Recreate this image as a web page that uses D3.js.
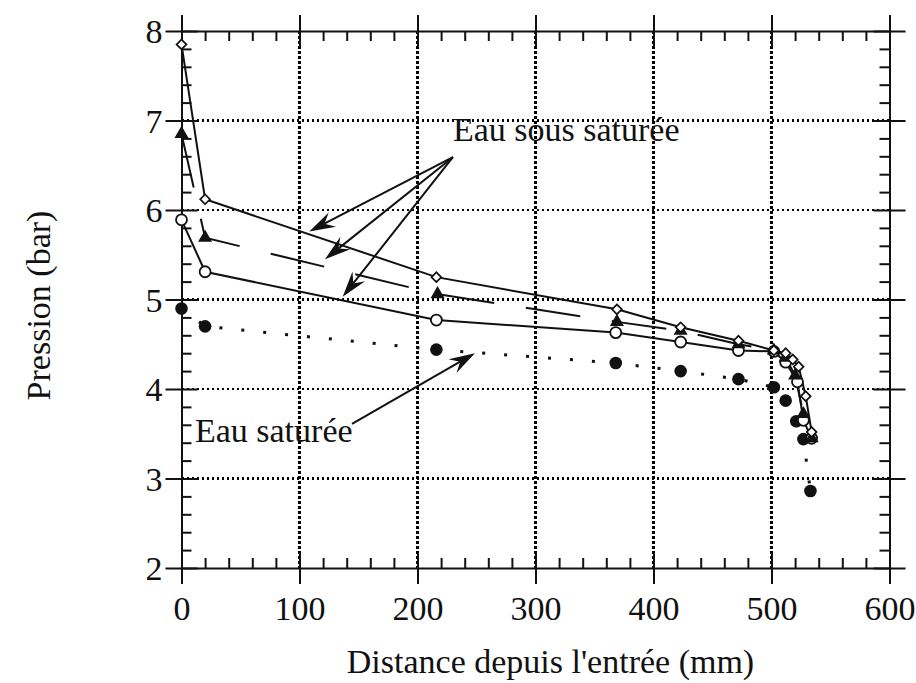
<!DOCTYPE html>
<html><head><meta charset="utf-8">
<script src="https://cdn.jsdelivr.net/npm/d3@7"></script>
<style>
body{margin:0;background:#fff}
text{font-family:"Liberation Serif","Times New Roman",serif;fill:#111}
</style>
</head><body>
<svg id="chart" width="916" height="683"></svg>
<script>
// ---- data ----
const diamondX = [0, 20, 216, 369, 423, 472, 502, 512, 518, 523, 529, 534];
const diamondY = [7.85, 6.12, 5.25, 4.89, 4.69, 4.54, 4.43, 4.40, 4.33, 4.25, 3.92, 3.52];
const triangleX = [0, 20, 217, 369, 423, 472, 502, 512, 520, 527, 534];
const triangleY = [6.85, 5.69, 5.06, 4.75, 4.65, 4.50, 4.43, 4.35, 4.15, 3.72, 3.45];
const openX = [0, 20, 216, 368, 423, 472, 502, 512, 522, 527, 534];
const openY = [5.89, 5.31, 4.77, 4.63, 4.525, 4.43, 4.42, 4.30, 4.08, 3.65, 3.45];
const filledX = [0, 20, 216, 368, 423, 472, 502, 512, 521, 527, 533];
const filledY = [4.90, 4.70, 4.44, 4.29, 4.20, 4.11, 4.02, 3.87, 3.64, 3.44, 2.86];

const xTicks = [0, 100, 200, 300, 400, 500, 600];
const yTicks = [2, 3, 4, 5, 6, 7, 8];
const xMinor = [20,40,60,80,120,140,160,180,220,240,260,280,320,340,360,380,420,440,460,480,520,540,560,580];
const yMinor = [2.2,2.4,2.6,2.8,3.2,3.4,3.6,3.8,4.2,4.4,4.6,4.8,5.2,5.4,5.6,5.8,6.2,6.4,6.6,6.8,7.2,7.4,7.6,7.8];

const xTitle = "Distance depuis l'entrée (mm)";
const yTitle = "Pression (bar)";
const labelSous = "Eau sous saturée";
const labelSat = "Eau saturée";
const labelSousPos = [230, 6.77];
const sousOrigin = [230, 6.59];
const sousTips = [[108.3, 5.76], [121.6, 5.45], [136.6, 5.03]];
const labelSatPos = [11.4, 3.41];
const satFrom = [144.5, 3.61];
const satTip = [248.7, 4.40];

// ---- layout ----
const svg = d3.select("#chart");
const L = 181.5, R = 889.5, T = 31, B = 568;
const x = d3.scaleLinear().domain([0, 600]).range([L, R]);
const y = d3.scaleLinear().domain([2, 8]).range([B, T]);
const FS = 34;

// grid
const grid = svg.append("g").attr("stroke", "#000").attr("stroke-width", 2.5)
  .attr("stroke-dasharray", "2.5,2.5").attr("shape-rendering", "crispEdges");
grid.selectAll("line.gx").data(xTicks.slice(1, -1)).join("line")
  .attr("x1", d => x(d)).attr("x2", d => x(d)).attr("y1", T).attr("y2", B);
grid.selectAll("line.gy").data(yTicks.slice(1, -1)).join("line")
  .attr("y1", d => y(d)).attr("y2", d => y(d)).attr("x1", L).attr("x2", R);

function styleAxis(g) {
  g.select(".domain").attr("stroke", "#111").attr("stroke-width", 2);
  g.selectAll(".tick line").attr("stroke", "#111").attr("stroke-width", 2);
  g.selectAll(".tick text").attr("font-size", FS).attr("font-family", "Liberation Serif").attr("fill", "#111");
}

// bottom axis
const gB = svg.append("g").attr("transform", `translate(0,${B})`)
  .call(d3.axisBottom(x).tickValues(xTicks).tickFormat(d3.format("d")).tickSize(16).tickSizeOuter(0).tickPadding(12));
styleAxis(gB); gB.selectAll(".tick line").attr("y1", -16);
const gBm = svg.append("g").attr("transform", `translate(0,${B})`)
  .call(d3.axisBottom(x).tickValues(xMinor).tickFormat("").tickSize(-10).tickSizeOuter(0));
styleAxis(gBm); gBm.select(".domain").remove();

// top axis
const gT = svg.append("g").attr("transform", `translate(0,${T})`)
  .call(d3.axisTop(x).tickValues(xTicks).tickFormat("").tickSize(16).tickSizeOuter(0));
styleAxis(gT); gT.selectAll(".tick line").attr("y1", 16);
const gTm = svg.append("g").attr("transform", `translate(0,${T})`)
  .call(d3.axisTop(x).tickValues(xMinor).tickFormat("").tickSize(-10).tickSizeOuter(0));
styleAxis(gTm); gTm.select(".domain").remove();

// left axis
const gL = svg.append("g").attr("transform", `translate(${L},0)`)
  .call(d3.axisLeft(y).tickValues(yTicks).tickFormat(d3.format("d")).tickSize(16).tickSizeOuter(0).tickPadding(3));
styleAxis(gL); gL.selectAll(".tick line").attr("x1", 16);
gL.selectAll(".tick text").attr("dy", "0.34em");
const gLm = svg.append("g").attr("transform", `translate(${L},0)`)
  .call(d3.axisLeft(y).tickValues(yMinor).tickFormat("").tickSize(-10).tickSizeOuter(0));
styleAxis(gLm); gLm.select(".domain").remove();

// right axis
const gR = svg.append("g").attr("transform", `translate(${R},0)`)
  .call(d3.axisRight(y).tickValues(yTicks).tickFormat("").tickSize(16).tickSizeOuter(0));
styleAxis(gR); gR.selectAll(".tick line").attr("x1", -16);
const gRm = svg.append("g").attr("transform", `translate(${R},0)`)
  .call(d3.axisRight(y).tickValues(yMinor).tickFormat("").tickSize(-10).tickSizeOuter(0));
styleAxis(gRm); gRm.select(".domain").remove();

// titles
svg.append("text").attr("x", (L + R) / 2 + 15).attr("y", 673).attr("text-anchor", "middle")
  .attr("font-size", FS).text(xTitle);
svg.append("text").attr("transform", `translate(50,${(T + B) / 2 + 6}) rotate(-90)`).attr("text-anchor", "middle")
  .attr("font-size", FS).text(yTitle);

// series
const zip = (xs, ys) => xs.map((v, i) => [v, ys[i]]);
const line = d3.line().x(d => x(d[0])).y(d => y(d[1]));
const series = [
  {pts: zip(diamondX, diamondY), dash: null},
  {pts: zip(triangleX, triangleY), dash: "55,32"},
  {pts: zip(openX, openY), dash: null},
  {pts: zip(filledX, filledY), dash: "3,19"}
];
const gLines = svg.append("g").attr("fill", "none").attr("stroke", "#111").attr("stroke-width", 2);
series.forEach(s => {
  gLines.append("path").attr("d", line(s.pts)).attr("stroke-dasharray", s.dash)
    .attr("stroke-width", s.dash === "3,19" ? 3 : 2);
});

// markers
const gM = svg.append("g");
gM.selectAll("circle.f").data(series[3].pts).join("circle")
  .attr("cx", d => x(d[0])).attr("cy", d => y(d[1])).attr("r", 6.3).attr("fill", "#111");
gM.selectAll("circle.o").data(series[2].pts).join("circle")
  .attr("cx", d => x(d[0])).attr("cy", d => y(d[1])).attr("r", 5.5)
  .attr("fill", "#fff").attr("stroke", "#111").attr("stroke-width", 1.8);
gM.selectAll("path.t").data(series[1].pts).join("path")
  .attr("d", d3.symbol(d3.symbolTriangle, 85))
  .attr("transform", d => `translate(${x(d[0])},${y(d[1])})`).attr("fill", "#111");
gM.selectAll("path.d").data(series[0].pts).join("path")
  .attr("d", d3.symbol(d3.symbolSquare, 48))
  .attr("transform", d => `translate(${x(d[0])},${y(d[1])}) rotate(45)`)
  .attr("fill", "#fff").attr("stroke", "#111").attr("stroke-width", 1.7);

// annotations
const gA = svg.append("g");
function arrow(from, to) {
  const x1 = x(from[0]), y1 = y(from[1]), x2 = x(to[0]), y2 = y(to[1]);
  const a = Math.atan2(y2 - y1, x2 - x1);
  const len = 26, hw = 8, notch = 17;
  const ux = Math.cos(a), uy = Math.sin(a), px = -uy, py = ux;
  const bx = x2 - ux * len, by = y2 - uy * len;
  const nx = x2 - ux * notch, ny = y2 - uy * notch;
  gA.append("line").attr("x1", x1).attr("y1", y1).attr("x2", nx).attr("y2", ny)
    .attr("stroke", "#111").attr("stroke-width", 2);
  gA.append("path").attr("d",
    `M${x2},${y2}L${bx + px * hw},${by + py * hw}L${nx},${ny}L${bx - px * hw},${by - py * hw}Z`)
    .attr("fill", "#111");
}
sousTips.forEach(t => arrow(sousOrigin, t));
arrow(satFrom, satTip);
svg.append("text").attr("x", x(labelSousPos[0])).attr("y", y(labelSousPos[1])).attr("font-size", FS).text(labelSous);
svg.append("text").attr("x", x(labelSatPos[0])).attr("y", y(labelSatPos[1])).attr("font-size", FS).text(labelSat);
</script>
</body></html>
